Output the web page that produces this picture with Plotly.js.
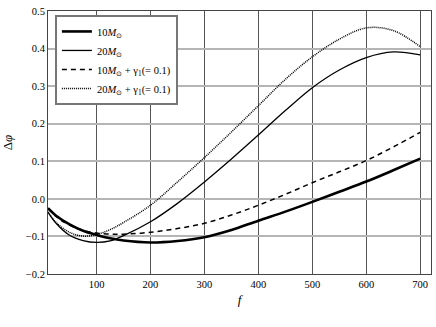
<!DOCTYPE html>
<html>
<head>
<meta charset="utf-8">
<script src="https://cdn.plot.ly/plotly-3.0.1.min.js"></script>
<style>html,body{margin:0;padding:0;background:#fff;}#chart{width:436px;height:327px;}</style>
</head>
<body>
<div id="chart"></div>
<script>
var freq = [10, 25, 50, 75, 100, 125, 150, 200, 250, 300, 350, 400, 450, 500, 550, 600, 650, 700];
var m10 = [-0.025, -0.045, -0.068, -0.085, -0.096, -0.105, -0.111, -0.116, -0.112, -0.102, -0.083, -0.058, -0.034, -0.008, 0.019, 0.046, 0.076, 0.107];
var m20 = [-0.035, -0.065, -0.097, -0.111, -0.116, -0.112, -0.098, -0.061, -0.012, 0.045, 0.106, 0.170, 0.235, 0.296, 0.343, 0.376, 0.391, 0.383];
var m10g = [-0.025, -0.047, -0.070, -0.084, -0.091, -0.094, -0.094, -0.089, -0.079, -0.065, -0.043, -0.017, 0.012, 0.043, 0.072, 0.102, 0.138, 0.177];
var m20g = [-0.035, -0.063, -0.089, -0.099, -0.095, -0.082, -0.063, -0.017, 0.045, 0.110, 0.178, 0.248, 0.318, 0.378, 0.425, 0.455, 0.448, 0.405];
var names = ["10<i>M</i><sub>⊙</sub>", "20<i>M</i><sub>⊙</sub>", "10<i>M</i><sub>⊙</sub> + γ<sub>1</sub>(= 0.1)", "20<i>M</i><sub>⊙</sub> + γ<sub>1</sub>(= 0.1)"];
var xTicks = [100, 200, 300, 400, 500, 600, 700];
var yTicks = [-0.2, -0.1, 0.0, 0.1, 0.2, 0.3, 0.4, 0.5];

var series = [m10, m20, m10g, m20g];
var styles = [
  {color: '#000', width: 2.6, dash: 'solid'},
  {color: '#000', width: 1.3, dash: 'solid'},
  {color: '#000', width: 1.5, dash: '5px,4px'},
  {color: '#000', width: 1.5, dash: '1px,1px'}
];
var traces = series.map(function (s, i) {
  return {x: freq, y: s, type: 'scatter', mode: 'lines', name: names[i],
          line: {color: styles[i].color, width: styles[i].width, dash: styles[i].dash, shape: 'spline', smoothing: 1}};
});

var fam = 'Liberation Serif, serif';
var layout = {
  width: 436, height: 327,
  margin: {l: 48, r: 5, t: 10.5, b: 53, pad: 0},
  paper_bgcolor: '#fff', plot_bgcolor: '#fff',
  font: {family: fam, size: 11, color: '#000'},
  showlegend: true,
  legend: {x: 0.018, y: 0.985, xanchor: 'left', yanchor: 'top', bgcolor: '#fff',
           bordercolor: '#777', borderwidth: 2, font: {family: fam, size: 10.5, color: '#000'},
           tracegroupgap: 0, itemwidth: 30},
  xaxis: {range: [10, 720], tickmode: 'array', tickvals: xTicks, ticktext: xTicks.map(String),
          showgrid: true, gridcolor: '#555', gridwidth: 1, zeroline: false,
          showline: true, linecolor: '#444', linewidth: 1, mirror: true, ticks: '',
          tickfont: {family: fam, size: 10.5, color: '#000'},
          title: {text: '<i>f</i>', font: {family: fam, size: 13, color: '#000'}, standoff: 6}},
  yaxis: {range: [-0.2, 0.5], tickmode: 'array', tickvals: yTicks, ticktext: yTicks.map(function (v) { return (v < 0 ? '\u2212' : '') + Math.abs(v).toFixed(1); }),
          showgrid: true, gridcolor: '#b5b5b5', gridwidth: 2, zeroline: false,
          showline: true, linecolor: '#444', linewidth: 1, mirror: true, ticks: '',
          tickfont: {family: fam, size: 10.5, color: '#000'},
          title: {text: 'Δ<i>φ</i>', font: {family: fam, size: 13, color: '#000'}, standoff: 12}}
};
Plotly.newPlot('chart', traces, layout, {displayModeBar: false, staticPlot: true});
</script>
</body>
</html>
